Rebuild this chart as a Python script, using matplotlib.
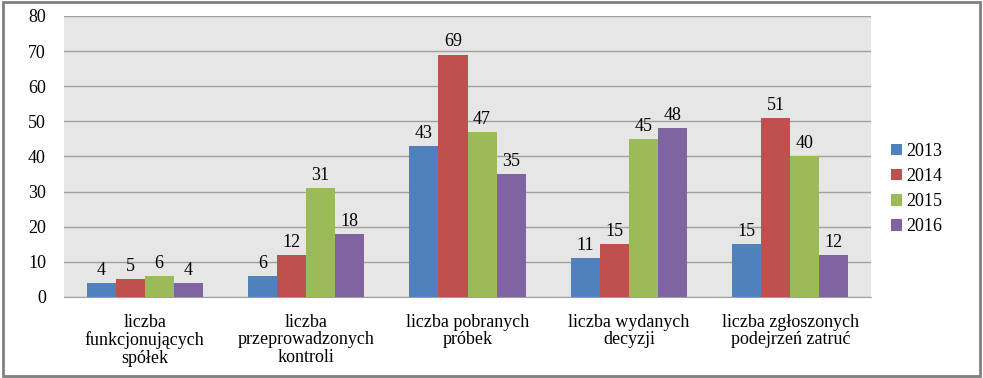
import matplotlib.pyplot as plt
import numpy as np

# Data
categories = ["liczba\nfunkcjonujących\nspółek",
              "liczba\nprzeprowadzonych\nkontroli",
              "liczba pobranych\npróbek",
              "liczba wydanych\ndecyzji",
              "liczba zgłoszonych\npodejrzeń zatruć"]
years = ["2013", "2014", "2015", "2016"]
v2013 = [4, 6, 43, 11, 15]
v2014 = [5, 12, 69, 15, 51]
v2015 = [6, 31, 47, 45, 40]
v2016 = [4, 18, 35, 48, 12]
series = [v2013, v2014, v2015, v2016]
colors = ["#4F81BD", "#C0504D", "#9BBB59", "#8064A2"]

plt.rcParams['font.family'] = ['Liberation Serif', 'DejaVu Serif']

fig = plt.figure(figsize=(9.83, 3.78), dpi=100)
ax = fig.add_axes([0.0651, 0.2143, 0.821, 0.7434])
ax.set_facecolor("#E6E6E6")

x = np.arange(len(categories))
bar_w = 0.18
for i, (vals, col, yr) in enumerate(zip(series, colors, years)):
    pos = x + (i - 1.5) * bar_w
    bars = ax.bar(pos, vals, width=bar_w, color=col, label=yr, zorder=3)
    for b, v in zip(bars, vals):
        ax.text(b.get_x() + b.get_width() / 2, v + 1.2, str(v),
                ha="center", va="bottom", fontsize=13)

ax.set_xlim(-0.5, len(categories) - 0.5)
ax.set_ylim(0, 80)
ax.set_yticks(range(0, 81, 10))
ax.yaxis.grid(True, color="#A0A0A0", linewidth=1, zorder=0)
ax.set_axisbelow(True)
for s in ["top", "right", "left"]:
    ax.spines[s].set_visible(False)
ax.spines["bottom"].set_color("#A0A0A0")
ax.tick_params(axis="both", length=0, labelsize=13)
ax.tick_params(axis="y", pad=13)
ax.set_xticks(x)
ax.set_xticklabels(categories, fontsize=13, linespacing=1.05)
ax.tick_params(axis="x", pad=12)

ax.legend(loc="center left", bbox_to_anchor=(1.005, 0.384), frameon=False,
          fontsize=13, handlelength=0.6, handleheight=0.6, handletextpad=0.2,
          labelspacing=0.45)

# outer border like the original chart frame
fig.patches.append(plt.Rectangle((0.003, 0.006), 0.994, 0.988, transform=fig.transFigure,
                                 fill=False, edgecolor="#808080", linewidth=2))

fig.savefig("out.png", dpi=100)
